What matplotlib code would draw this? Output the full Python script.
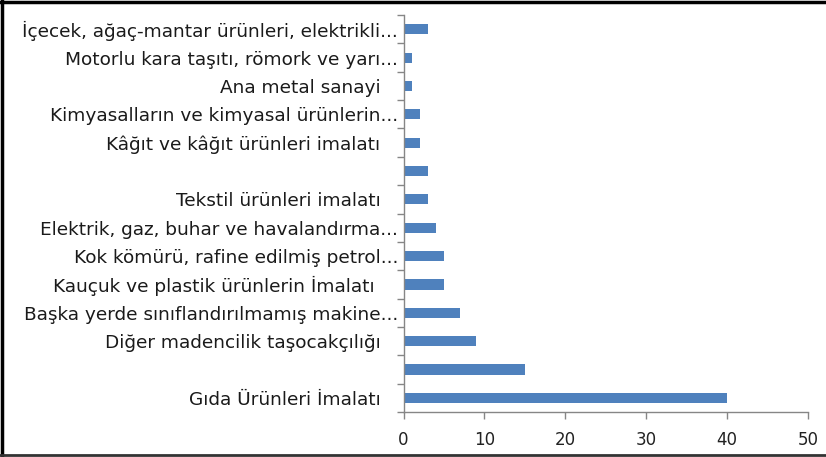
import matplotlib.pyplot as plt
from matplotlib.lines import Line2D

# Kategoriler (alttan üste)
kategoriler = [
    "Gıda Ürünleri İmalatı   ",
    "",
    "Diğer madencilik taşocakçılığı   ",
    "Başka yerde sınıflandırılmamış makine...",
    "Kauçuk ve plastik ürünlerin İmalatı    ",
    "Kok kömürü, rafine edilmiş petrol...",
    "Elektrik, gaz, buhar ve havalandırma...",
    "Tekstil ürünleri imalatı   ",
    "",
    "Kâğıt ve kâğıt ürünleri imalatı   ",
    "Kimyasalların ve kimyasal ürünlerin...",
    "Ana metal sanayi   ",
    "Motorlu kara taşıtı, römork ve yarı...",
    "İçecek, ağaç-mantar ürünleri, elektrikli...",
]
degerler = [40, 15, 9, 7, 5, 5, 4, 3, 3, 2, 2, 1, 1, 3]
x_ticks = [0, 10, 20, 30, 40, 50]

eksen_rengi = "#868686"

fig = plt.figure(figsize=(8.26, 4.57), dpi=100)
ax = fig.add_axes([0.4885, 0.0985, 0.4895, 0.8685])

pos = list(range(len(kategoriler)))
ax.barh(pos, degerler, height=0.36, color="#4F81BD")

ax.set_xlim(0, 50)
ax.set_ylim(-0.5, len(kategoriler) - 0.5)
ax.set_xticks(x_ticks)
ax.set_xticklabels([str(v) for v in x_ticks], fontsize=12, color="#222222")

# etiketler kategori ortasında, tick çizgileri kategoriler arasında
ax.set_yticks(pos)
ax.set_yticklabels(kategoriler, fontsize=13.3, color="#1a1a1a")
ax.tick_params(axis="y", length=0, pad=4)
ax.set_yticks([p - 0.5 for p in pos] + [len(pos) - 0.5], minor=True)
ax.tick_params(axis="y", which="minor", length=5, color=eksen_rengi, width=1)
ax.tick_params(axis="x", length=5, color=eksen_rengi, width=1, pad=9)

for s in ["top", "right"]:
    ax.spines[s].set_visible(False)
for s in ["left", "bottom"]:
    ax.spines[s].set_color(eksen_rengi)
    ax.spines[s].set_linewidth(1)

# dış çerçeve (sağ kenar yok)
fig.add_artist(Line2D([0, 1], [0.995, 0.995], transform=fig.transFigure, color="black", lw=2.5))
fig.add_artist(Line2D([0.003, 0.003], [0, 1], transform=fig.transFigure, color="black", lw=2.5))
fig.add_artist(Line2D([0, 1], [0.004, 0.004], transform=fig.transFigure, color="#333333", lw=2))

fig.savefig("out.png", dpi=100)
